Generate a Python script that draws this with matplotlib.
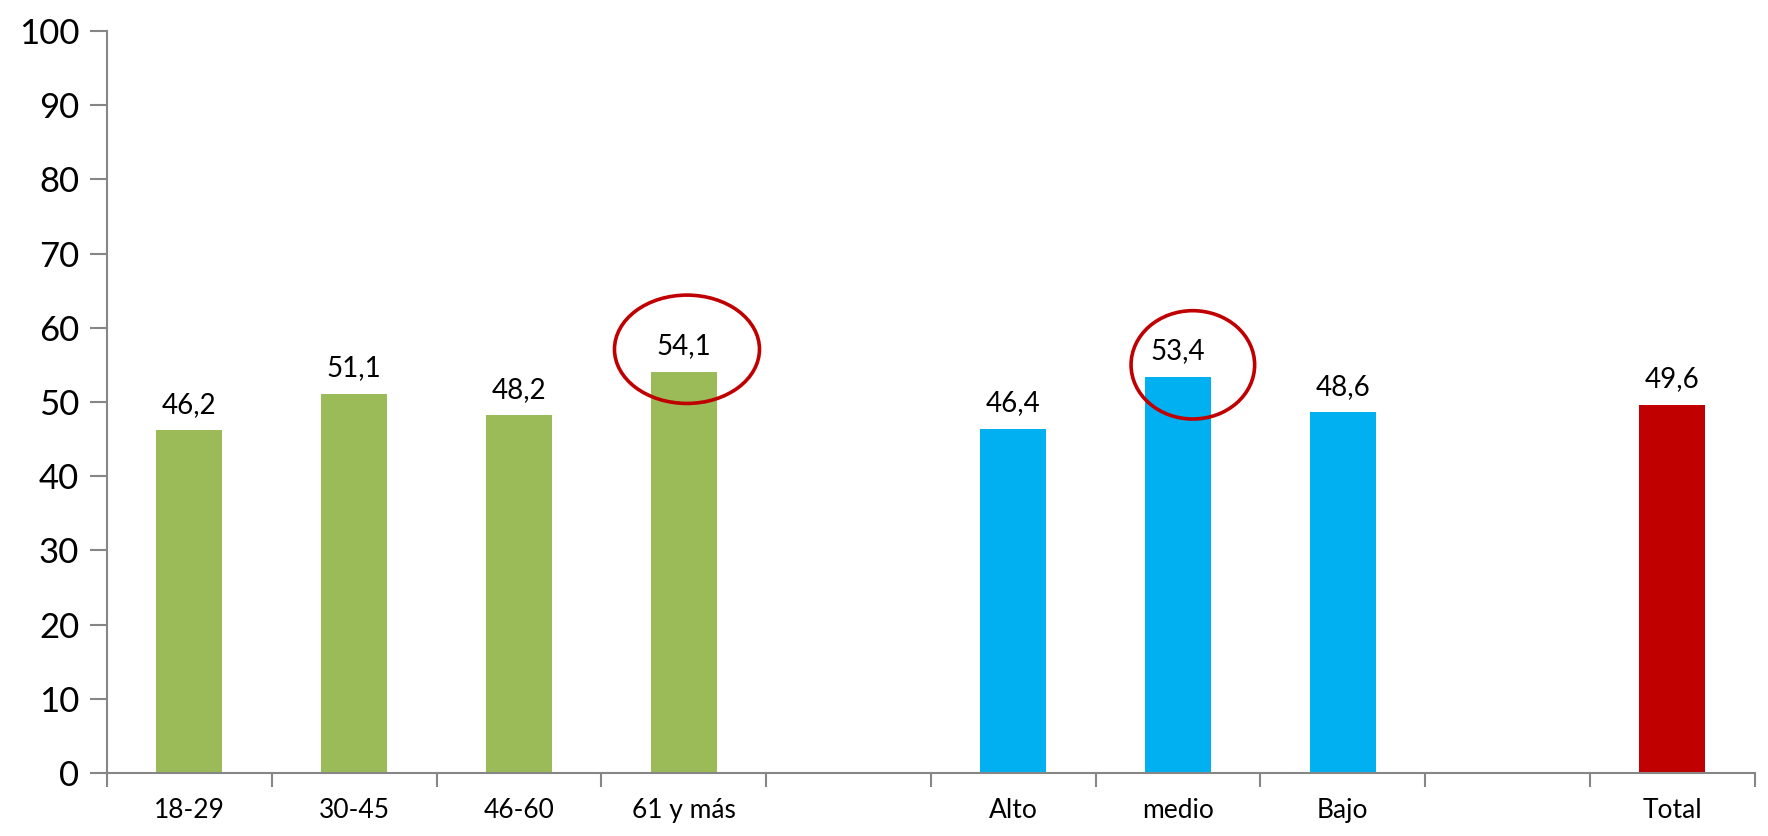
import numpy as np
import matplotlib.pyplot as plt
from matplotlib.patches import Ellipse

plt.rcParams['font.family'] = ['Lato', 'DejaVu Sans']

categories = ["18-29", "30-45", "46-60", "61 y más", "", "Alto", "medio", "Bajo", "", "Total"]
values = [46.2, 51.1, 48.2, 54.1, None, 46.4, 53.4, 48.6, None, 49.6]
bar_colors = ["#9BBB59", "#9BBB59", "#9BBB59", "#9BBB59", None,
              "#00B0F0", "#00B0F0", "#00B0F0", None, "#C00000"]
highlighted = ["61 y más", "medio"]

fig = plt.figure(figsize=(17.68, 8.36), dpi=100)
ax = fig.add_axes([0.0605, 0.0754, 0.932, 0.8876])

x = np.arange(len(categories))
for i, (cat, val, col) in enumerate(zip(categories, values, bar_colors)):
    if val is None:
        continue
    ax.bar(i, val, width=0.4, color=col, zorder=2)
    ax.annotate(f"{val:.1f}".replace(".", ","), (i, val), xytext=(0, 9),
                textcoords="offset points", ha="center", va="bottom", fontsize=20)

# red ellipses around highlighted values
for name, dx, dy, w in [("61 y más", 0.02, 3.0, 0.88), ("medio", 0.09, 1.6, 0.75)]:
    i = categories.index(name)
    ax.add_patch(Ellipse((i + dx, values[i] + dy), w, 14.6, fill=False,
                         edgecolor="#C00000", linewidth=2.6, zorder=3))

ax.set_xlim(-0.5, len(categories) - 0.5)
ax.set_ylim(0, 100)
ax.set_yticks(range(0, 101, 10))

ax.set_xticks(np.arange(-0.5, len(categories), 1.0))
ax.set_xticklabels([])
ax.set_xticks(x, minor=True)
ax.set_xticklabels(categories, minor=True, fontsize=19)
ax.tick_params(axis="x", which="major", length=10, width=1.5, color="#868686", direction="out")
ax.tick_params(axis="x", which="minor", length=0, pad=18)
ax.tick_params(axis="y", length=12, width=1.5, color="#868686", labelsize=25, pad=8)

for s in ["top", "right"]:
    ax.spines[s].set_visible(False)
for s in ["left", "bottom"]:
    ax.spines[s].set_color("#868686")
    ax.spines[s].set_linewidth(1.5)

fig.savefig("out.png", dpi=100)
